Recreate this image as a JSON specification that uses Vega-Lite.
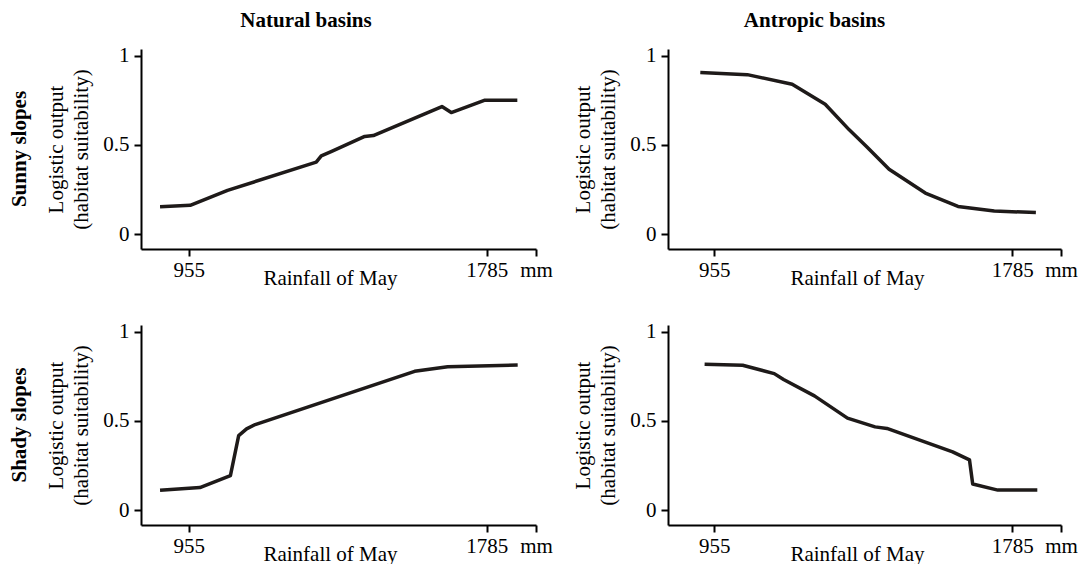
{
  "$schema": "https://vega.github.io/schema/vega-lite/v6.json",
  "background": "white",
  "padding": {"left": 8, "top": 9, "right": 0, "bottom": 0},
  "datasets": {
    "curves": [
      {"basin": "Natural basins", "slope": "Sunny slopes", "rain": 875, "out": 0.153},
      {"basin": "Natural basins", "slope": "Sunny slopes", "rain": 959, "out": 0.161},
      {"basin": "Natural basins", "slope": "Sunny slopes", "rain": 1063, "out": 0.245},
      {"basin": "Natural basins", "slope": "Sunny slopes", "rain": 1310, "out": 0.404},
      {"basin": "Natural basins", "slope": "Sunny slopes", "rain": 1324, "out": 0.439},
      {"basin": "Natural basins", "slope": "Sunny slopes", "rain": 1353, "out": 0.464},
      {"basin": "Natural basins", "slope": "Sunny slopes", "rain": 1445, "out": 0.548},
      {"basin": "Natural basins", "slope": "Sunny slopes", "rain": 1469, "out": 0.553},
      {"basin": "Natural basins", "slope": "Sunny slopes", "rain": 1660, "out": 0.716},
      {"basin": "Natural basins", "slope": "Sunny slopes", "rain": 1686, "out": 0.682},
      {"basin": "Natural basins", "slope": "Sunny slopes", "rain": 1778, "out": 0.751},
      {"basin": "Natural basins", "slope": "Sunny slopes", "rain": 1870, "out": 0.751},
      {"basin": "Antropic basins", "slope": "Sunny slopes", "rain": 916, "out": 0.907},
      {"basin": "Antropic basins", "slope": "Sunny slopes", "rain": 1047, "out": 0.895},
      {"basin": "Antropic basins", "slope": "Sunny slopes", "rain": 1172, "out": 0.841},
      {"basin": "Antropic basins", "slope": "Sunny slopes", "rain": 1264, "out": 0.729},
      {"basin": "Antropic basins", "slope": "Sunny slopes", "rain": 1331, "out": 0.585},
      {"basin": "Antropic basins", "slope": "Sunny slopes", "rain": 1379, "out": 0.492},
      {"basin": "Antropic basins", "slope": "Sunny slopes", "rain": 1442, "out": 0.364},
      {"basin": "Antropic basins", "slope": "Sunny slopes", "rain": 1543, "out": 0.230},
      {"basin": "Antropic basins", "slope": "Sunny slopes", "rain": 1634, "out": 0.155},
      {"basin": "Antropic basins", "slope": "Sunny slopes", "rain": 1735, "out": 0.129},
      {"basin": "Antropic basins", "slope": "Sunny slopes", "rain": 1851, "out": 0.121},
      {"basin": "Natural basins", "slope": "Shady slopes", "rain": 875, "out": 0.111},
      {"basin": "Natural basins", "slope": "Shady slopes", "rain": 986, "out": 0.126},
      {"basin": "Natural basins", "slope": "Shady slopes", "rain": 1071, "out": 0.193},
      {"basin": "Natural basins", "slope": "Shady slopes", "rain": 1094, "out": 0.418},
      {"basin": "Natural basins", "slope": "Shady slopes", "rain": 1116, "out": 0.456},
      {"basin": "Natural basins", "slope": "Shady slopes", "rain": 1140, "out": 0.480},
      {"basin": "Natural basins", "slope": "Shady slopes", "rain": 1584, "out": 0.779},
      {"basin": "Natural basins", "slope": "Shady slopes", "rain": 1676, "out": 0.805},
      {"basin": "Natural basins", "slope": "Shady slopes", "rain": 1871, "out": 0.814},
      {"basin": "Antropic basins", "slope": "Shady slopes", "rain": 928, "out": 0.819},
      {"basin": "Antropic basins", "slope": "Shady slopes", "rain": 1034, "out": 0.813},
      {"basin": "Antropic basins", "slope": "Shady slopes", "rain": 1122, "out": 0.766},
      {"basin": "Antropic basins", "slope": "Shady slopes", "rain": 1148, "out": 0.733},
      {"basin": "Antropic basins", "slope": "Shady slopes", "rain": 1234, "out": 0.641},
      {"basin": "Antropic basins", "slope": "Shady slopes", "rain": 1326, "out": 0.516},
      {"basin": "Antropic basins", "slope": "Shady slopes", "rain": 1403, "out": 0.467},
      {"basin": "Antropic basins", "slope": "Shady slopes", "rain": 1436, "out": 0.458},
      {"basin": "Antropic basins", "slope": "Shady slopes", "rain": 1619, "out": 0.327},
      {"basin": "Antropic basins", "slope": "Shady slopes", "rain": 1666, "out": 0.282},
      {"basin": "Antropic basins", "slope": "Shady slopes", "rain": 1675, "out": 0.146},
      {"basin": "Antropic basins", "slope": "Shady slopes", "rain": 1745, "out": 0.112},
      {"basin": "Antropic basins", "slope": "Shady slopes", "rain": 1855, "out": 0.112}
    ]
  },
  "config": {
    "font": "Liberation Serif",
    "view": {"stroke": null},
    "axis": {
      "grid": false,
      "labelFont": "Liberation Serif",
      "labelFontSize": 21,
      "labelColor": "#000000",
      "titleFont": "Liberation Serif",
      "titleFontSize": 21,
      "titleFontWeight": "normal",
      "titleColor": "#000000",
      "domainColor": "#000000",
      "domainWidth": 2,
      "tickColor": "#000000",
      "tickWidth": 2,
      "tickSize": 7,
      "labelPadding": 3
    },
    "axisX": {"labelFlush": false, "labelOverlap": false, "titleY": 29, "titleX": 189, "titleBaseline": "middle", "titleAnchor": "start", "titleAlign": "center"},
    "axisY": {"labelPadding": 5, "titlePadding": 11, "titleLineHeight": 25},
    "title": {"font": "Liberation Serif", "fontSize": 21, "fontWeight": "bold", "color": "#000000", "anchor": "middle", "frame": "group", "offset": 14},
    "header": {"title": null, "labelFont": "Liberation Serif", "labelFontSize": 21, "labelFontWeight": "bold", "labelColor": "#000000", "labelPadding": 5}
  },
  "columns": 2,
  "spacing": {"column": 19, "row": 32},
  "concat": [
    {
      "data": {"name": "curves"},
      "transform": [{"filter": "datum.basin === 'Natural basins' && datum.slope === 'Sunny slopes'"}],
      "title": {"text": "Natural basins", "dx": 165},
      "facet": {"row": {"field": "slope", "type": "nominal", "header": {"labelAngle": -90, "labelOrient": "left"}}},
      "spec": {
        "width": 395, "height": 200,
        "mark": {"type": "line", "color": "#1e1a19", "strokeWidth": 3.5, "strokeJoin": "round"},
        "encoding": {
          "x": {"field": "rain", "type": "quantitative", "scale": {"domain": [822, 1922], "nice": false, "zero": false},
                "axis": {"values": [955, 1785, 1922], "format": "d", "labelExpr": "datum.value > 1900 ? 'mm' : datum.label", "title": "Rainfall of May"}},
          "y": {"field": "out", "type": "quantitative", "scale": {"domain": [-0.084, 1.039], "nice": false, "zero": false},
                "axis": {"values": [0, 0.5, 1], "format": ".1~f", "title": ["Logistic output", "(habitat suitability)"]}}
        }
      }
    },
    {
      "data": {"name": "curves"},
      "transform": [{"filter": "datum.basin === 'Antropic basins' && datum.slope === 'Sunny slopes'"}],
      "title": {"text": "Antropic basins", "dx": -50},
      "width": 393, "height": 200,
      "mark": {"type": "line", "color": "#1e1a19", "strokeWidth": 3.5, "strokeJoin": "round"},
      "encoding": {
        "x": {"field": "rain", "type": "quantitative", "scale": {"domain": [826, 1921], "nice": false, "zero": false},
              "axis": {"values": [955, 1785, 1921], "format": "d", "labelExpr": "datum.value > 1900 ? 'mm' : datum.label", "title": "Rainfall of May"}},
        "y": {"field": "out", "type": "quantitative", "scale": {"domain": [-0.084, 1.039], "nice": false, "zero": false},
              "axis": {"values": [0, 0.5, 1], "format": ".1~f", "title": ["Logistic output", "(habitat suitability)"]}}
      }
    },
    {
      "data": {"name": "curves"},
      "transform": [{"filter": "datum.basin === 'Natural basins' && datum.slope === 'Shady slopes'"}],
      "facet": {"row": {"field": "slope", "type": "nominal", "header": {"labelAngle": -90, "labelOrient": "left"}}},
      "spec": {
        "width": 395, "height": 200,
        "mark": {"type": "line", "color": "#1e1a19", "strokeWidth": 3.5, "strokeJoin": "round"},
        "encoding": {
          "x": {"field": "rain", "type": "quantitative", "scale": {"domain": [822, 1922], "nice": false, "zero": false},
                "axis": {"values": [955, 1785, 1922], "format": "d", "labelExpr": "datum.value > 1900 ? 'mm' : datum.label", "title": "Rainfall of May"}},
          "y": {"field": "out", "type": "quantitative", "scale": {"domain": [-0.084, 1.039], "nice": false, "zero": false},
                "axis": {"values": [0, 0.5, 1], "format": ".1~f", "title": ["Logistic output", "(habitat suitability)"]}}
        }
      }
    },
    {
      "data": {"name": "curves"},
      "transform": [{"filter": "datum.basin === 'Antropic basins' && datum.slope === 'Shady slopes'"}],
      "width": 393, "height": 200,
      "mark": {"type": "line", "color": "#1e1a19", "strokeWidth": 3.5, "strokeJoin": "round"},
      "encoding": {
        "x": {"field": "rain", "type": "quantitative", "scale": {"domain": [826, 1921], "nice": false, "zero": false},
              "axis": {"values": [955, 1785, 1921], "format": "d", "labelExpr": "datum.value > 1900 ? 'mm' : datum.label", "title": "Rainfall of May"}},
        "y": {"field": "out", "type": "quantitative", "scale": {"domain": [-0.084, 1.039], "nice": false, "zero": false},
              "axis": {"values": [0, 0.5, 1], "format": ".1~f", "title": ["Logistic output", "(habitat suitability)"]}}
      }
    }
  ]
}
